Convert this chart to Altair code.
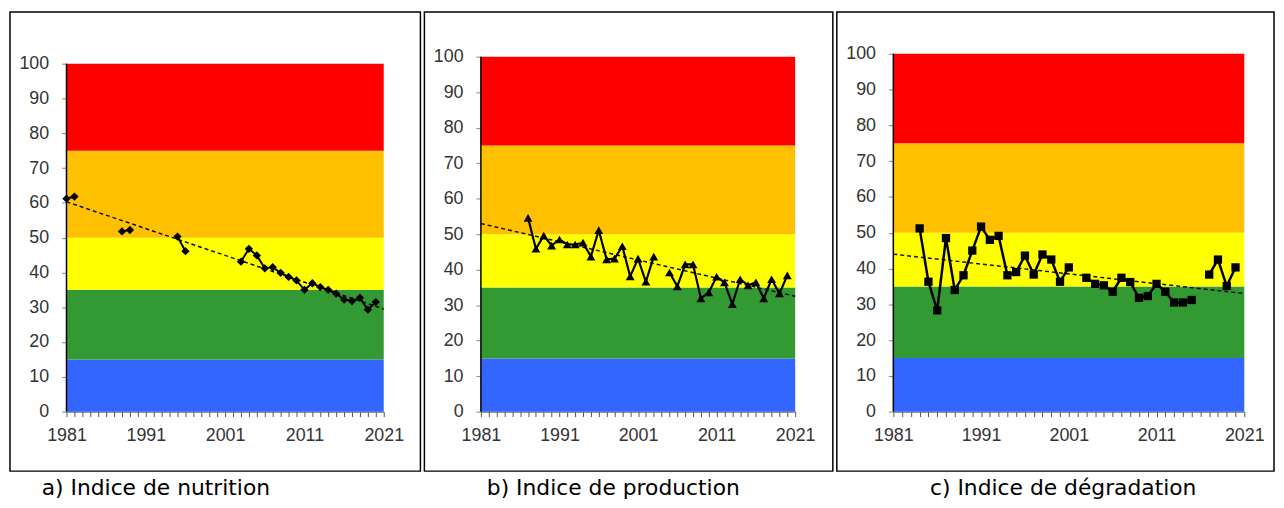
import altair as alt
import pandas as pd

# ---------------- data ----------------
years_a = [1981, 1982, 1988, 1989, 1995, 1996, 2003, 2004, 2005, 2006, 2007, 2008,
           2009, 2010, 2011, 2012, 2013, 2014, 2015, 2016, 2017, 2018, 2019, 2020]
vals_a = [61.2, 61.8, 51.8, 52.2, 50.3, 46.1, 43.1, 46.8, 44.9, 41.2, 41.5, 39.9,
          38.7, 37.7, 35.0, 36.9, 35.8, 35.0, 33.9, 32.2, 31.8, 32.7, 29.3, 31.5]

years_b = [1987, 1988, 1989, 1990, 1991, 1992, 1993, 1994, 1995, 1996, 1997, 1998,
           1999, 2000, 2001, 2002, 2003, 2005, 2006, 2007, 2008, 2009, 2010, 2011,
           2012, 2013, 2014, 2015, 2016, 2017, 2018, 2019, 2020]
vals_b = [54.6, 45.9, 49.6, 46.8, 48.5, 47.1, 47.1, 47.6, 43.7, 51.1, 42.9, 43.1,
          46.6, 38.1, 43.1, 36.6, 43.7, 39.2, 35.3, 41.5, 41.5, 31.9, 33.6, 38.0,
          36.4, 30.3, 37.3, 35.6, 36.4, 31.9, 37.3, 33.3, 38.4]

years_c = [1984, 1985, 1986, 1987, 1988, 1989, 1990, 1991, 1992, 1993, 1994, 1995,
           1996, 1997, 1998, 1999, 2000, 2001, 2003, 2004, 2005, 2006, 2007, 2008,
           2009, 2010, 2011, 2012, 2013, 2014, 2015, 2017, 2018, 2019, 2020]
vals_c = [51.2, 36.3, 28.3, 48.5, 34.0, 38.1, 45.0, 51.7, 48.0, 49.1, 38.1, 39.0,
          43.6, 38.3, 43.9, 42.5, 36.3, 40.3, 37.4, 35.7, 35.3, 33.5, 37.4, 36.2,
          31.8, 32.3, 35.7, 33.5, 30.5, 30.5, 31.2, 38.3, 42.5, 35.1, 40.3]

trend_years = [1981, 2021]
trend_a = [60.3, 29.5]
trend_b = [53.0, 32.5]
trend_c = [44.0, 33.0]

band_lo = [0, 15, 35, 50, 75]
band_hi = [15, 35, 50, 75, 100]
band_colors = ["#3366FF", "#339933", "#FFFF00", "#FFC000", "#FF0000"]

captions = ["a) Indice de nutrition", "b) Indice de production", "c) Indice de dégradation"]
tick_years = list(range(1981, 2022))
y_ticks = list(range(0, 101, 10))

FONT = "Liberation Sans"
PLOT_H = 361


def panel(years, vals, trend, shape, size, lw, w, ymax, frame, cap_pos, caption):
    df = pd.DataFrame({"year": years, "value": vals})
    df["seg"] = (df["year"].diff().fillna(1) > 1).cumsum()
    tdf = pd.DataFrame({"year": trend_years, "value": trend})
    bdf = pd.DataFrame({"x0": [trend_years[0]] * len(band_lo),
                        "x1": [trend_years[-1]] * len(band_lo),
                        "lo": band_lo, "hi": band_hi, "col": band_colors})
    adf = pd.DataFrame({"x": [trend_years[0]], "lo": [band_lo[0]], "hi": [band_hi[-1]]})

    xs = alt.Scale(domain=[1981, 2021], nice=False, zero=False)
    ys = alt.Scale(domain=[0, ymax], nice=False)
    xax = alt.Axis(values=tick_years, format="d",
                   labelExpr="(datum.value - 1981) % 10 == 0 ? datum.label : ''",
                   title=None, grid=False, labelOverlap=False, labelFlush=False,
                   tickSize=5, tickColor="#555", domainColor="#555",
                   labelPadding=10, labelFont=FONT, labelFontSize=18, labelColor="#333")
    yax = alt.Axis(values=y_ticks, title=None, grid=False, tickSize=5,
                   tickColor="#888", domain=False,
                   labelPadding=13, labelFont=FONT, labelFontSize=18, labelColor="#333")

    bands = alt.Chart(bdf).mark_rect().encode(
        x=alt.X("x0:Q", scale=xs, axis=xax), x2="x1:Q",
        y=alt.Y("lo:Q", scale=ys, axis=yax), y2="hi:Q",
        color=alt.Color("col:N", scale=None),
    )
    yline = alt.Chart(adf).mark_rule(color="black", strokeWidth=1.5).encode(
        x=alt.X("x:Q", scale=xs, axis=xax),
        y=alt.Y("lo:Q", scale=ys, axis=yax), y2="hi:Q",
    )
    trend_line = alt.Chart(tdf).mark_line(color="#111", strokeWidth=1.5,
                                          strokeDash=[4, 3]).encode(
        x=alt.X("year:Q", scale=xs, axis=xax),
        y=alt.Y("value:Q", scale=ys, axis=yax),
    )
    line = alt.Chart(df).mark_line(color="black", strokeWidth=lw).encode(
        x=alt.X("year:Q", scale=xs, axis=xax),
        y=alt.Y("value:Q", scale=ys, axis=yax),
        detail="seg:N",
    )
    pts = alt.Chart(df).mark_point(shape=shape, filled=True, color="black",
                                   size=size, opacity=1).encode(
        x=alt.X("year:Q", scale=xs, axis=xax),
        y=alt.Y("value:Q", scale=ys, axis=yax),
    )
    one = pd.DataFrame({"k": [0]})
    fr = alt.Chart(one).mark_rect(fillOpacity=0, stroke="black", strokeWidth=1.5).encode(
        x=alt.value(frame[0]), x2=alt.value(frame[1]),
        y=alt.value(frame[2]), y2=alt.value(frame[3]),
    )
    cap = alt.Chart(one).mark_text(align="left", baseline="alphabetic",
                                   font="DejaVu Sans", fontSize=22,
                                   color="black").encode(
        x=alt.value(cap_pos[0]), y=alt.value(cap_pos[1]),
        text=alt.value(caption),
    )
    return alt.layer(bands, yline, trend_line, line, pts, fr, cap).properties(
        width=w, height=PLOT_H)


pa = panel(years_a, vals_a, trend_a, "diamond", 70, 2, 320, 102.85,
           (-57, 357, -42, 421), (-25, 445), captions[0])
pb = panel(years_b, vals_b, trend_b, "triangle-up", 80, 2.2, 317, 100.84,
           (-57, 355, -42, 421), (6, 445), captions[1])
pc = panel(years_c, vals_c, trend_c, "square", 70, 2.5, 354, 100,
           (-57, 384, -42, 421), (37, 445), captions[2])

chart = alt.hconcat(pa, pb, pc, spacing=0).properties(
    padding={"left": 0, "top": 0, "right": 0, "bottom": 0},
    background="white",
).configure_view(stroke="transparent")

chart.save("out.html", embed_options={"renderer": "svg", "actions": False})
